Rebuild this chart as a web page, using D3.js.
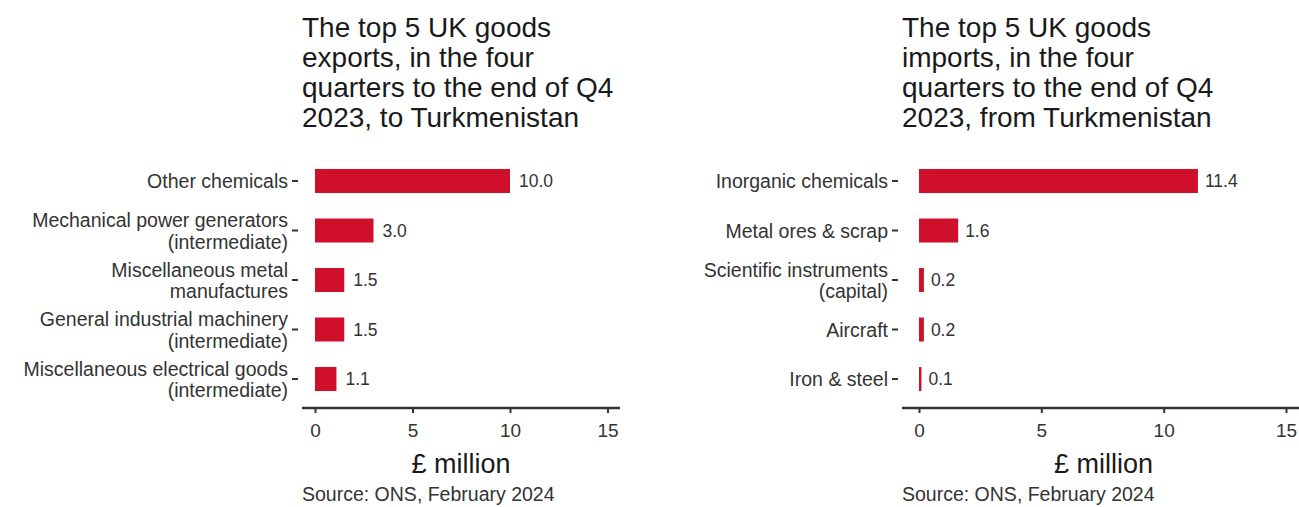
<!DOCTYPE html>
<html>
<head>
<meta charset="utf-8">
<script src="https://cdn.jsdelivr.net/npm/d3@7"></script>
<style>
  body { margin: 0; background: #fff; }
  svg { display: block; font-family: Arial, "Liberation Sans", sans-serif; }
</style>
</head>
<body>
<svg id="chart" width="1299" height="507"></svg>
<script>
// data
var exportCategories = [
    "Other chemicals",
    "Mechanical power generators\n(intermediate)",
    "Miscellaneous metal\nmanufactures",
    "General industrial machinery\n(intermediate)",
    "Miscellaneous electrical goods\n(intermediate)"
];
var exportValues = [10.0, 3.0, 1.5, 1.5, 1.1];

var importCategories = [
    "Inorganic chemicals",
    "Metal ores & scrap",
    "Scientific instruments\n(capital)",
    "Aircraft",
    "Iron & steel"
];
var importValues = [11.4, 1.6, 0.2, 0.2, 0.1];

var xTicks = [0, 5, 10, 15];

var exportTitle = ["The top 5 UK goods", "exports, in the four", "quarters to the end of Q4", "2023, to Turkmenistan"];
var importTitle = ["The top 5 UK goods", "imports, in the four", "quarters to the end of Q4", "2023, from Turkmenistan"];

var axisTitle = "\u00a3 million";
var sourceText = "Source: ONS, February 2024";

var barColour = "#d0102b";
var textColour = "#333333";

var svg = d3.select("#chart");

function drawPanel(opts) {
    var g = svg.append("g");

    var x = d3.scaleLinear()
        .domain([0, 15])
        .range([opts.x0, opts.x15]);

    var y = d3.scaleBand()
        .domain(opts.categories)
        .range([156.25, 403.75])
        .paddingInner(0.515)
        .paddingOuter(0.2575);

    // title
    g.append("text")
        .attr("x", opts.left)
        .attr("y", 37)
        .attr("fill", "#1a1a1a")
        .style("font-size", "28px")
        .selectAll("tspan")
        .data(opts.title)
        .enter().append("tspan")
        .attr("x", opts.left)
        .attr("dy", function (d, i) { return i === 0 ? 0 : 30; })
        .text(function (d) { return d; });

    // bars
    g.selectAll("rect.bar")
        .data(opts.values)
        .enter().append("rect")
        .attr("class", "bar")
        .attr("x", x(0))
        .attr("y", function (d, i) { return y(opts.categories[i]); })
        .attr("width", function (d) { return x(d) - x(0); })
        .attr("height", y.bandwidth())
        .attr("fill", barColour);

    // value labels
    g.selectAll("text.val")
        .data(opts.values)
        .enter().append("text")
        .attr("class", "val")
        .attr("x", function (d) { return x(d) + opts.gap; })
        .attr("y", function (d, i) { return y(opts.categories[i]) + y.bandwidth() / 2 + 6; })
        .attr("fill", textColour)
        .style("font-size", "17.5px")
        .text(function (d) { return d.toFixed(1); });

    // y axis
    var yAxis = g.append("g")
        .attr("transform", "translate(" + opts.yAxisX + ",0)")
        .call(d3.axisLeft(y).tickSize(6).tickPadding(4));
    yAxis.select(".domain").remove();
    yAxis.selectAll(".tick line").attr("stroke", textColour).attr("stroke-width", 2);
    yAxis.selectAll(".tick text")
        .attr("fill", textColour)
        .style("font-size", "19.5px")
        .style("font-family", "Arial, 'Liberation Sans', sans-serif")
        .each(function (d) {
            var t = d3.select(this);
            var lines = d.split("\n");
            t.text(null).attr("dy", null).attr("y", 0);
            lines.forEach(function (line, i) {
                var base = lines.length === 1 ? 7 : (i === 0 ? -3.5 : 18);
                t.append("tspan")
                    .attr("x", -10)
                    .attr("y", base)
                    .text(line);
            });
        });

    // x axis
    var xAxis = g.append("g")
        .attr("transform", "translate(0,408)")
        .call(d3.axisBottom(x).tickValues(xTicks).tickSize(5).tickPadding(10.5));
    xAxis.select(".domain").remove();
    xAxis.append("line")
        .attr("x1", opts.left)
        .attr("x2", opts.right)
        .attr("stroke", textColour)
        .attr("stroke-width", 2.5);
    xAxis.selectAll(".tick line").attr("stroke", textColour).attr("stroke-width", 2);
    xAxis.selectAll(".tick text")
        .attr("fill", textColour)
        .style("font-size", "19px")
        .style("font-family", "Arial, 'Liberation Sans', sans-serif");

    // axis title
    g.append("text")
        .attr("x", (opts.left + opts.right) / 2)
        .attr("y", 473)
        .attr("text-anchor", "middle")
        .attr("fill", "#1a1a1a")
        .style("font-size", "27px")
        .text(axisTitle);

    // source
    g.append("text")
        .attr("x", opts.left)
        .attr("y", 501)
        .attr("fill", textColour)
        .style("font-size", "19.5px")
        .text(sourceText);
}

drawPanel({
    categories: exportCategories,
    values: exportValues,
    title: exportTitle,
    x0: 315, x15: 607.5,
    left: 302, right: 620,
    yAxisX: 298,
    gap: 9
});

drawPanel({
    categories: importCategories,
    values: importValues,
    title: importTitle,
    x0: 919, x15: 1286,
    left: 902, right: 1305,
    yAxisX: 898,
    gap: 7
});
</script>
</body>
</html>
